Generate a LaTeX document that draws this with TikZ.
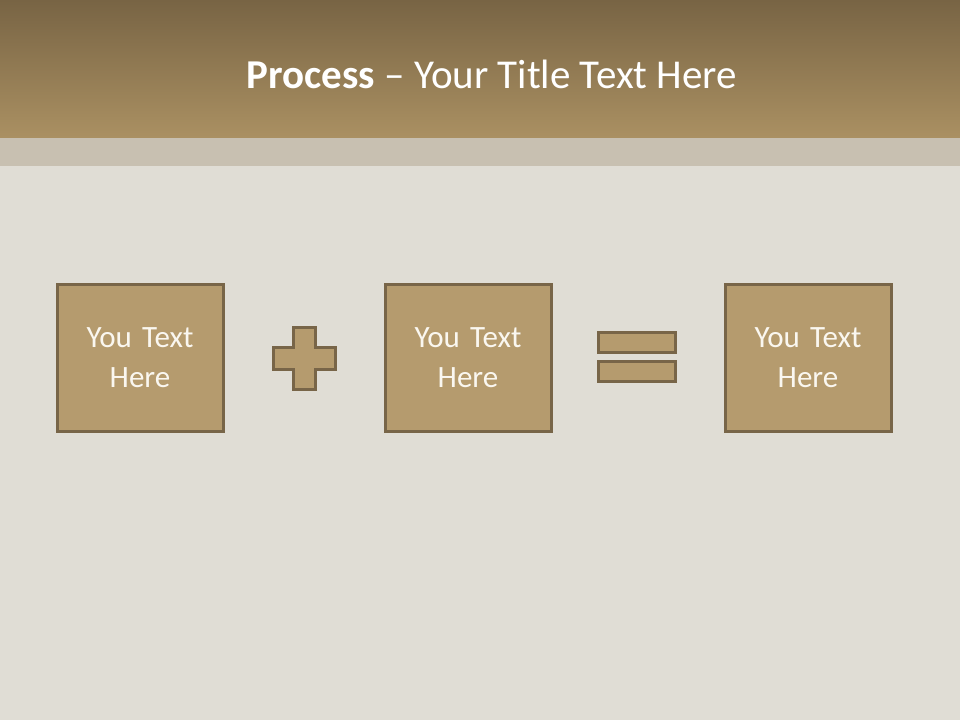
\documentclass[tikz,border=0pt]{standalone}
\usepackage{fontspec}
\setmainfont{Carlito}
\usepackage{tikz}
\usetikzlibrary{positioning}
\definecolor{headtop}{RGB}{120,100,68}
\definecolor{headbot}{RGB}{170,144,98}
\definecolor{band}{RGB}{200,192,177}
\definecolor{linen}{RGB}{224,221,213}
\definecolor{tanfill}{RGB}{181,155,110}
\definecolor{tanline}{RGB}{120,101,72}
\definecolor{cream}{RGB}{250,247,240}
\tikzset{
  stepbox/.style={rectangle, draw=tanline, line width=3pt, fill=tanfill,
                  minimum width=166pt, minimum height=147pt, inner sep=0pt,
                  text width=150pt, align=center, text=cream,
                  font=\fontsize{31}{40}\selectfont},
  signbar/.style={rectangle, draw=tanline, line width=3pt, fill=tanfill,
                  minimum width=77pt, minimum height=20pt, inner sep=0pt},
  signshape/.style={draw=tanline, line width=3pt, fill=tanfill},
}

\begin{document}
\begin{tikzpicture}[x=1pt, y=-1pt]

% ── 背景 ─────────────────────────────────────────────────────────────────────
\fill[linen] (0,0) rectangle (960,720);
\fill[band] (0,137) rectangle (960,166);
\shade[top color=headtop, bottom color=headbot] (0,0) rectangle (960,137);

% ── 标题 ─────────────────────────────────────────────────────────────────────
\node[anchor=base, text=white, font=\fontsize{41}{48}\selectfont] (title) at (492,88)
  {\textbf{Process} – Your Title Text Here};

% ── 方框 ─────────────────────────────────────────────────────────────────────
\node[stepbox] (left)  at (140,357.5) {You Text\\Here};
\node[stepbox] (mid)   at (468,357.5) {You Text\\Here};
\node[stepbox] (right) at (808,357.5) {You Text\\Here};

% ── 加号 ─────────────────────────────────────────────────────────────────────
\draw[signshape] (293,327) -- (315,327) -- (315,347) -- (335,347) -- (335,369)
  -- (315,369) -- (315,389) -- (293,389) -- (293,369) -- (273,369)
  -- (273,347) -- (293,347) -- cycle;

% ── 等号 ─────────────────────────────────────────────────────────────────────
\node[signbar] (eqtop) at (636.5,342.5) {};
\node[signbar] (eqbot) at (636.5,371) {};

\end{tikzpicture}
\end{document}
